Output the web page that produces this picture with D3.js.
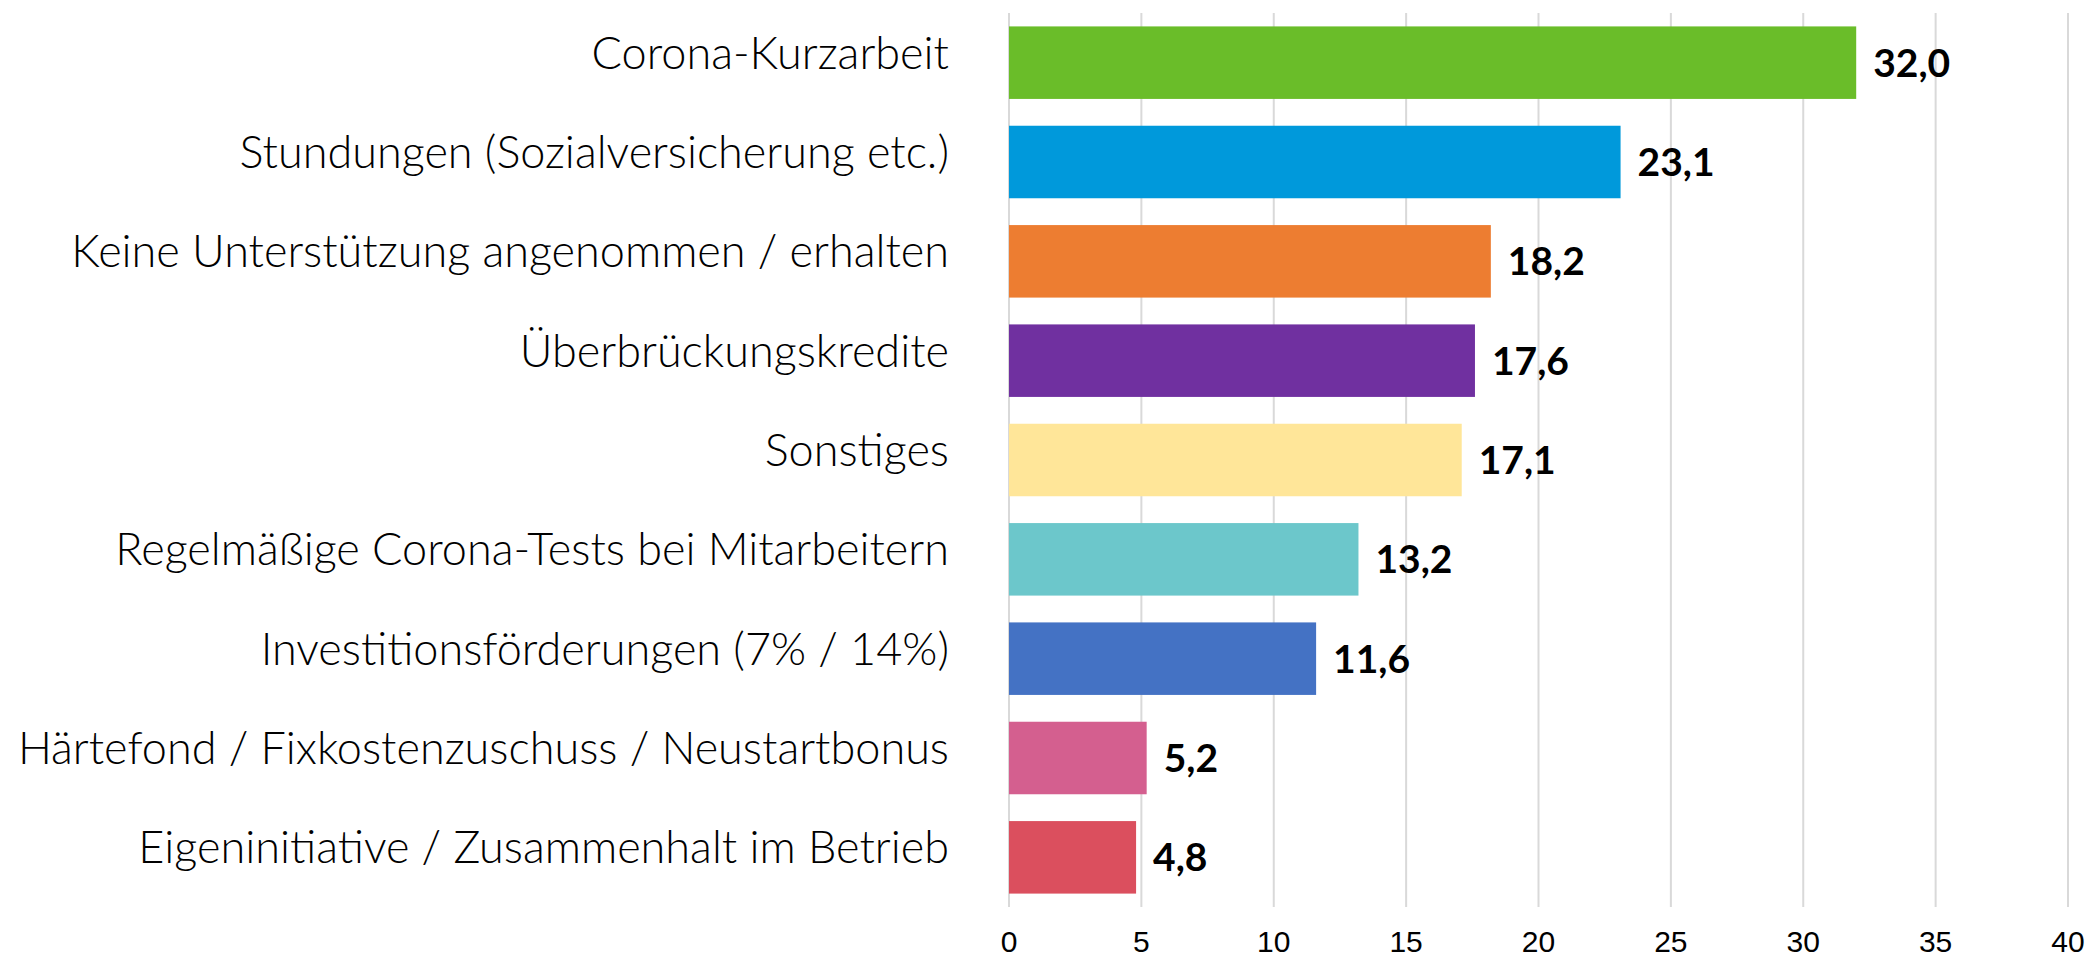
<!DOCTYPE html>
<html>
<head>
<meta charset="utf-8">
<script src="https://cdn.jsdelivr.net/npm/d3@7"></script>
<style>
    body { margin: 0; background: #fff; }
    svg { display: block; }
</style>
</head>
<body>
<script>
// Unterstützungsmaßnahmen - horizontal bars

const categories = [
    "Corona-Kurzarbeit",
    "Stundungen (Sozialversicherung etc.)",
    "Keine Unterstützung angenommen / erhalten",
    "Überbrückungskredite",
    "Sonstiges",
    "Regelmäßige Corona-Tests bei Mitarbeitern",
    "Investitionsförderungen (7% / 14%)",
    "Härtefond / Fixkostenzuschuss / Neustartbonus",
    "Eigeninitiative / Zusammenhalt im Betrieb"
]
const values = [32.0, 23.1, 18.2, 17.6, 17.1, 13.2, 11.6, 5.2, 4.8]
const barColors = ["#6abd29", "#0099db", "#ed7d31", "#7030a0", "#ffe699", "#6cc7cb", "#4472c4", "#d45f8f", "#db4f5e"]
const ticks = [0, 5, 10, 15, 20, 25, 30, 35, 40]

const width = 2090,
    height = 959

const margin = { top: 13, right: 22, bottom: 52, left: 1009 }

const svg = d3.select("body").append("svg")
    .attr("width", width)
    .attr("height", height)

const x = d3.scaleLinear()
    .domain([0, 40])
    .range([margin.left, width - margin.right])

const y = d3.scaleBand()
    .domain(categories)
    .range([margin.top, height - margin.bottom])
    .paddingInner(0.27)
    .paddingOuter(0.135)

// gridlines
svg.append("g")
    .selectAll("line")
    .data(ticks)
    .join("line")
    .attr("x1", (d) => x(d))
    .attr("x2", (d) => x(d))
    .attr("y1", margin.top)
    .attr("y2", height - margin.bottom)
    .attr("stroke", "#d9d9d9")
    .attr("stroke-width", 2)

// tick labels
svg.append("g")
    .selectAll("text")
    .data(ticks)
    .join("text")
    .attr("x", (d) => x(d))
    .attr("y", 952)
    .attr("text-anchor", "middle")
    .attr("font-family", "'Liberation Sans', Arial, sans-serif")
    .attr("font-size", 30)
    .attr("fill", "#000")
    .text((d) => d)

// bars
svg.append("g")
    .selectAll("rect")
    .data(values)
    .join("rect")
    .attr("x", x(0))
    .attr("y", (d, i) => y(categories[i]))
    .attr("width", (d) => x(d) - x(0))
    .attr("height", y.bandwidth())
    .attr("fill", (d, i) => barColors[i])

// value labels
const fmt = (v) => v.toFixed(1).replace(".", ",")
svg.append("g")
    .selectAll("text")
    .data(values)
    .join("text")
    .attr("x", (d) => x(d) + 17)
    .attr("y", (d, i) => y(categories[i]) + y.bandwidth() / 2 + 14)
    .attr("font-family", "Lato, sans-serif")
    .attr("font-weight", 700)
    .attr("font-size", 39)
    .attr("fill", "#000")
    .text((d) => fmt(d))

// category labels
svg.append("g")
    .selectAll("text")
    .data(categories)
    .join("text")
    .attr("x", 949)
    .attr("y", (d) => y(d) + y.bandwidth() / 2 + 6)
    .attr("text-anchor", "end")
    .attr("font-family", "Lato, sans-serif")
    .attr("font-weight", 300)
    .attr("font-size", 45)
    .attr("fill", "#000")
    .text((d) => d)
</script>
</body>
</html>
